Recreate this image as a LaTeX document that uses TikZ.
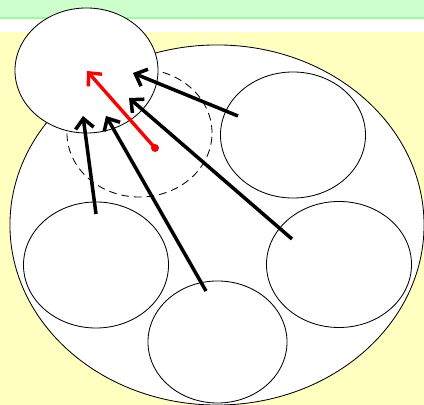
\documentclass[tikz,border=0pt]{standalone}
\usepackage{xcolor}
\usepackage{tikz}
\usetikzlibrary{shapes.geometric,arrows.meta}
\definecolor{fondo}{HTML}{FFFFC0}
\definecolor{banda}{HTML}{CCFFCC}
\definecolor{borde}{HTML}{99FF99}

\begin{document}
\begin{tikzpicture}[x=0.025cm, y=-0.025cm,
    grupo/.style={draw, ellipse, fill=white, line width=0.6pt, inner sep=0pt,
      minimum width=3.625cm, minimum height=3.15cm},
    alcance/.style={draw, ellipse, line width=0.6pt, inner sep=0pt,
      dash pattern=on 5.5pt off 3.5pt, minimum width=3.625cm, minimum height=3.2cm},
    flecha/.style={line width=2.5pt, -{Straight Barb[length=7pt, width=13pt]}},
    guia/.style={red, line width=2.4pt, -{Straight Barb[length=7pt, width=13pt]}}]
        \useasboundingbox (0,0) rectangle (424,405);
        % Fondo y banda superior
        \fill[fondo] (0,32) rectangle (424,405);
        \fill[banda] (0,0) rectangle (424,18);
        \draw[borde, line width=0.8pt] (0,18) -- (424,18);
        % Elipse grande que contiene los grupos
        \node[grupo, minimum width=10.35cm, minimum height=9cm] (todo) at (217,225) {};
        % Grupos alrededor
        \node[grupo] (sup) at (293,135) {};
        \node[grupo] (der) at (339,264.5) {};
        \node[grupo, minimum width=3.475cm, minimum height=3.05cm] (inf) at (217.5,342) {};
        \node[grupo] (izq) at (96,265) {};
        % Radio punteado alrededor del punto rojo
        \node[alcance] (radio) at (139.5,133) {};
        % Grupo destino
        \node[grupo, minimum width=3.575cm, minimum height=3.125cm] (centro) at (86.5,70.5) {};
        % Puntos de salida y llegada de las flechas
        \coordinate (s1) at (238,116);
        \coordinate (t1) at (133,73);
        \coordinate (s2) at (292,239);
        \coordinate (t2) at (129,98);
        \coordinate (s3) at (206,291);
        \coordinate (t3) at (106,116);
        \coordinate (s4) at (96,214);
        \coordinate (t4) at (83,116);
        \coordinate (t5) at (87,71);
        % Flechas hacia el grupo destino
        \draw[flecha] (s1) -- (t1);
        \draw[flecha] (s2) -- (t2);
        \draw[flecha] (s3) -- (t3);
        \draw[flecha] (s4) -- (t4);
        % Punto rojo y su flecha
        \node[circle, fill=red, inner sep=0pt, minimum size=0.2cm] (punto) at (155,148) {};
        \draw[guia] (punto.center) -- (t5);
    \end{tikzpicture}
\end{document}
